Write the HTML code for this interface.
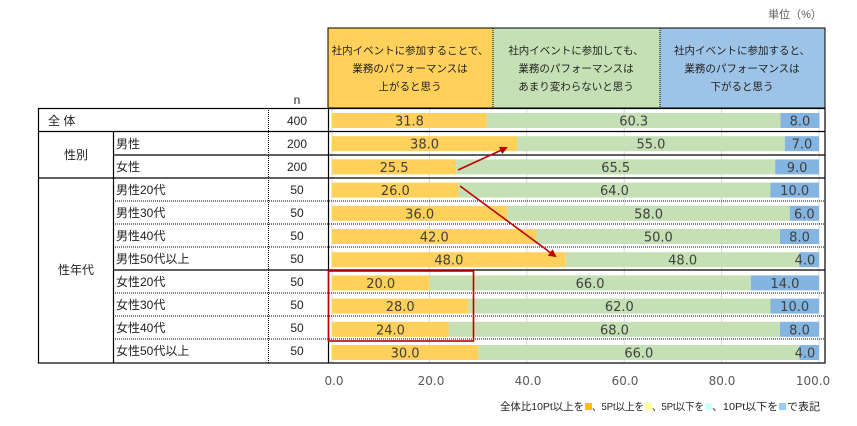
<!DOCTYPE html>
<html><head><meta charset="utf-8"><style>
body{margin:0;background:#fff}
svg{display:block;font-family:"Liberation Sans","Noto Sans CJK JP",sans-serif}
</style></head><body>
<svg width="857" height="426" viewBox="0 0 857 426" xmlns="http://www.w3.org/2000/svg">
<text x="795" y="18" font-size="11" fill="#595959" text-anchor="middle">単位（%）</text>
<rect x="328" y="28" width="165" height="80" fill="#FFD05A"/>
<rect x="493" y="28" width="167" height="80" fill="#C5E0B4"/>
<rect x="660" y="28" width="165" height="80" fill="#9DC3E6"/>
<rect x="328" y="28" width="497" height="80" fill="none" stroke="#000" stroke-width="1"/>
<line x1="493" y1="28" x2="493" y2="108" stroke="#000" stroke-dasharray="1,1"/>
<line x1="660" y1="28" x2="660" y2="108" stroke="#000" stroke-dasharray="1,1"/>
<g font-size="10.5" fill="#222" text-anchor="middle">
<text x="410" y="54">社内イベントに参加することで、</text>
<text x="410" y="72">業務のパフォーマンスは</text>
<text x="410" y="90">上がると思う</text>
<text x="576" y="54">社内イベントに参加しても、</text>
<text x="576" y="72">業務のパフォーマンスは</text>
<text x="576" y="90">あまり変わらないと思う</text>
<text x="742" y="54">社内イベントに参加すると、</text>
<text x="742" y="72">業務のパフォーマンスは</text>
<text x="742" y="90">下がると思う</text>
</g>
<text x="297" y="104" font-size="12" fill="#222" text-anchor="middle">n</text>
<g stroke="#d9d9d9" stroke-width="1">
<line x1="332" y1="108" x2="332" y2="363"/><line x1="429.4" y1="108" x2="429.4" y2="363"/>
<line x1="526.8" y1="108" x2="526.8" y2="363"/><line x1="624.2" y1="108" x2="624.2" y2="363"/>
<line x1="721.6" y1="108" x2="721.6" y2="363"/><line x1="819" y1="108" x2="819" y2="363"/>
</g>
<g id="bars" font-size="13" fill="#404040" text-anchor="middle" font-family="DejaVu Sans, sans-serif"></g>
<g stroke="#000" stroke-width="1.2" fill="none">
<rect x="38.5" y="108.5" width="786.5" height="254.5"/>
<line x1="38" y1="131.5" x2="825" y2="131.5"/>
<line x1="113" y1="155" x2="825" y2="155"/>
<line x1="38" y1="178" x2="825" y2="178"/>
<line x1="113" y1="270" x2="825" y2="270"/>
<line x1="113.5" y1="131" x2="113.5" y2="363"/>
<line x1="328.5" y1="108" x2="328.5" y2="363"/>
</g>
<g stroke="#000" stroke-width="1" stroke-dasharray="1,1">
<line x1="268.5" y1="108" x2="268.5" y2="363"/>
<line x1="113" y1="201" x2="825" y2="201"/><line x1="113" y1="224" x2="825" y2="224"/>
<line x1="113" y1="247" x2="825" y2="247"/><line x1="113" y1="293" x2="825" y2="293"/>
<line x1="113" y1="316" x2="825" y2="316"/><line x1="113" y1="339" x2="825" y2="339"/>
</g>
<g font-size="12" fill="#222">
<text x="48" y="125">全 体</text>
<text x="76" y="159" text-anchor="middle">性別</text>
<text x="76" y="274" text-anchor="middle">性年代</text>
<text x="116" y="148">男性</text><text x="116" y="171">女性</text>
<text x="116" y="194">男性20代</text><text x="116" y="217">男性30代</text>
<text x="116" y="240">男性40代</text><text x="116" y="263">男性50代以上</text>
<text x="116" y="286">女性20代</text><text x="116" y="309">女性30代</text>
<text x="116" y="332">女性40代</text><text x="116" y="355">女性50代以上</text>
</g>
<g font-size="12" fill="#222" text-anchor="middle">
<text x="297" y="125">400</text><text x="297" y="148">200</text><text x="297" y="171">200</text>
<text x="297" y="194">50</text><text x="297" y="217">50</text><text x="297" y="240">50</text><text x="297" y="263">50</text>
<text x="297" y="286">50</text><text x="297" y="309">50</text><text x="297" y="332">50</text><text x="297" y="355">50</text>
</g>
<g font-size="12" fill="#595959" text-anchor="middle" font-family="DejaVu Sans, sans-serif">
<text x="334" y="385">0.0</text><text x="431" y="385">20.0</text><text x="528" y="385">40.0</text>
<text x="625" y="385">60.0</text><text x="722" y="385">80.0</text><text x="813" y="385">100.0</text>
</g>
<g font-size="10.5" fill="#222">
<text x="500" y="410" textLength="84" lengthAdjust="spacingAndGlyphs">全体比10Pt以上を</text><rect x="585" y="403" width="7" height="7" fill="#FFC000"/>
<text x="592" y="410" textLength="52" lengthAdjust="spacingAndGlyphs">、5Pt以上を</text><rect x="645" y="403" width="7" height="7" fill="#FFFF99"/>
<text x="652" y="410" textLength="52" lengthAdjust="spacingAndGlyphs">、5Pt以下を</text><rect x="705" y="403" width="7" height="7" fill="#CCFFFF"/>
<text x="712" y="410" textLength="66" lengthAdjust="spacingAndGlyphs">、10Pt以下を</text><rect x="779" y="403" width="7" height="7" fill="#99CCFF"/>
<text x="787" y="410" textLength="33" lengthAdjust="spacingAndGlyphs">で表記</text>
</g>
<rect x="328.5" y="271" width="145" height="70" fill="none" stroke="#C00000" stroke-width="1.6"/>
<defs><marker id="ah" markerWidth="8" markerHeight="8" refX="6" refY="4" orient="auto" markerUnits="userSpaceOnUse"><path d="M0,0 L8,4 L0,8 Z" fill="#C00000"/></marker></defs>
<line x1="458" y1="170" x2="506" y2="148" stroke="#C00000" stroke-width="1.6" marker-end="url(#ah)"/>
<line x1="460" y1="186" x2="555" y2="256" stroke="#C00000" stroke-width="1.6" marker-end="url(#ah)"/>
</svg>
<script>
var d=[[31.8,60.3,8.0],[38.0,55.0,7.0],[25.5,65.5,9.0],[26.0,64.0,10.0],[36.0,58.0,6.0],[42.0,50.0,8.0],[48.0,48.0,4.0],[20.0,66.0,14.0],[28.0,62.0,10.0],[24.0,68.0,8.0],[30.0,66.0,4.0]];
var g=document.getElementById('bars'),ns='http://www.w3.org/2000/svg',x0=332,s=4.87,cols=['#FFD05A','#C5E0B4','#84B4E0'];
d.forEach(function(r,i){var y=108+23.2*i+5,x=x0;r.forEach(function(v,j){var w=v*s,e=document.createElementNS(ns,'rect');e.setAttribute('x',x);e.setAttribute('y',y);e.setAttribute('width',w);e.setAttribute('height',15);e.setAttribute('fill',cols[j]);g.appendChild(e);var t=document.createElementNS(ns,'text');t.setAttribute('x',j==2?Math.min(x+w/2,x0+100*s-14):x+w/2);t.setAttribute('y',y+12.5);t.textContent=v.toFixed(1);g.appendChild(t);x+=w;});});
</script>
</body></html>
